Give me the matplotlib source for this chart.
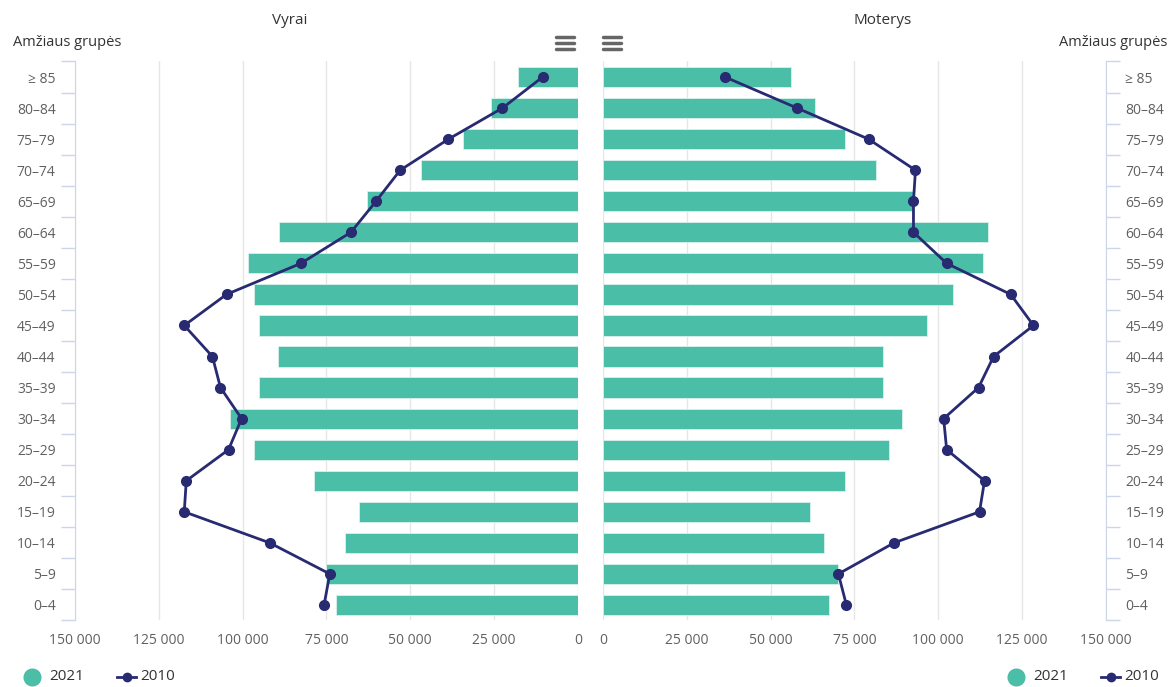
import matplotlib.pyplot as plt
from matplotlib.lines import Line2D
from matplotlib.ticker import FuncFormatter, FixedLocator

plt.rcParams['font.family'] = ['Open Sans', 'DejaVu Sans']

age_groups = ["0–4", "5–9", "10–14", "15–19", "20–24", "25–29", "30–34", "35–39",
              "40–44", "45–49", "50–54", "55–59", "60–64", "65–69", "70–74",
              "75–79", "80–84", "≥ 85"]

men_2021 = [72200, 75100, 69500, 65300, 78700, 96700, 103900, 95200, 89500,
            95200, 96700, 98500, 89200, 62900, 46700, 34400, 26000, 18000]
men_2010 = [75700, 74000, 91900, 117400, 116800, 104200, 100300, 106600, 109000,
            117400, 104800, 82600, 67700, 60200, 53000, 38600, 22500, 10500]
women_2021 = [67500, 70000, 66000, 61800, 72300, 85400, 89300, 83600, 83600,
              96500, 104500, 113200, 114700, 92600, 81300, 72300, 63300, 56200]
women_2010 = [72600, 70200, 86800, 112300, 113800, 102500, 101600, 112000, 116500,
              128400, 121600, 102500, 92600, 92600, 93200, 79200, 57900, 36400]

ticks_x = [0, 25000, 50000, 75000, 100000, 125000, 150000]

BAR = '#4bbea8'
LINE = '#282a72'
TXT = '#606060'
AXC = '#ccd6eb'

fig = plt.figure(figsize=(11.75, 6.87), dpi=100)
bottom = 0.0968
height = 0.9105 - bottom
ax_l = fig.add_axes([0.0638, bottom, 0.428, height])
ax_r = fig.add_axes([0.5132, bottom, 0.428, height])

y = list(range(len(age_groups)))
fmt = FuncFormatter(lambda v, p: f"{int(v):,}".replace(",", " "))

for ax, bars, line in ((ax_l, men_2021, men_2010), (ax_r, women_2021, women_2010)):
    ax.barh(y, bars, height=0.65, color=BAR, edgecolor='#d9f2ec', linewidth=0.6, zorder=2)
    ax.plot(line, y, color=LINE, lw=2, marker='o', ms=7, zorder=3)
    ax.set_ylim(-0.5, len(age_groups) - 0.5)
    ax.set_xticks(ticks_x)
    ax.xaxis.set_major_formatter(fmt)
    ax.grid(axis='x', color='#e6e6e6', lw=1, zorder=0)
    ax.set_axisbelow(True)
    ax.tick_params(axis='x', length=0, colors=TXT, labelsize=10, pad=9)
    ax.set_yticks(y)
    ax.set_yticklabels(age_groups)
    ax.yaxis.set_minor_locator(FixedLocator([i - 0.5 for i in range(len(age_groups) + 1)]))
    ax.tick_params(axis='y', which='major', length=0, colors=TXT, labelsize=10, pad=14)
    ax.tick_params(axis='y', which='minor', length=10, color=AXC, width=1)
    for s in ('top', 'bottom'):
        ax.spines[s].set_visible(False)

ax_l.set_xlim(150000, 0)
ax_l.spines['right'].set_visible(False)
ax_l.spines['left'].set_color(AXC)

ax_r.set_xlim(0, 150000)
ax_r.spines['left'].set_visible(False)
ax_r.spines['right'].set_color(AXC)
ax_r.yaxis.tick_right()
ax_r.yaxis.set_label_position('right')
for lab in ax_r.get_yticklabels():
    lab.set_horizontalalignment('left')

fig.text(290 / 1175, 1 - 20 / 687, "Vyrai", ha='center', va='center', fontsize=11, color='#333333')
fig.text(883 / 1175, 1 - 20 / 687, "Moterys", ha='center', va='center', fontsize=11, color='#333333')
fig.text(67 / 1175, 1 - 42 / 687, "Amžiaus grupės", ha='center', va='center', fontsize=10.5, color='#333333')
fig.text(1113 / 1175, 1 - 42 / 687, "Amžiaus grupės", ha='center', va='center', fontsize=10.5, color='#333333')

# menu icons
for cx in (565, 612):
    for dy in (37, 43, 49):
        fig.add_artist(Line2D([(cx - 9) / 1175, (cx + 9) / 1175], [1 - dy / 687] * 2,
                              color='#666666', lw=2.5, solid_capstyle='round'))

# legends
def legend(x0):
    yy = 1 - 677 / 687
    fig.add_artist(Line2D([x0 / 1175], [yy], marker='o', ms=12, color=BAR, lw=0))
    fig.text((x0 + 17) / 1175, yy, "2021", va='center', fontsize=11, color='#333333')
    fig.add_artist(Line2D([(x0 + 85) / 1175, (x0 + 104) / 1175], [yy, yy], color=LINE, lw=2))
    fig.add_artist(Line2D([(x0 + 94.5) / 1175], [yy], marker='o', ms=6, color=LINE, lw=0))
    fig.text((x0 + 108) / 1175, yy, "2010", va='center', fontsize=11, color='#333333')

legend(32)
legend(1016)

plt.savefig("out.png", dpi=100)
